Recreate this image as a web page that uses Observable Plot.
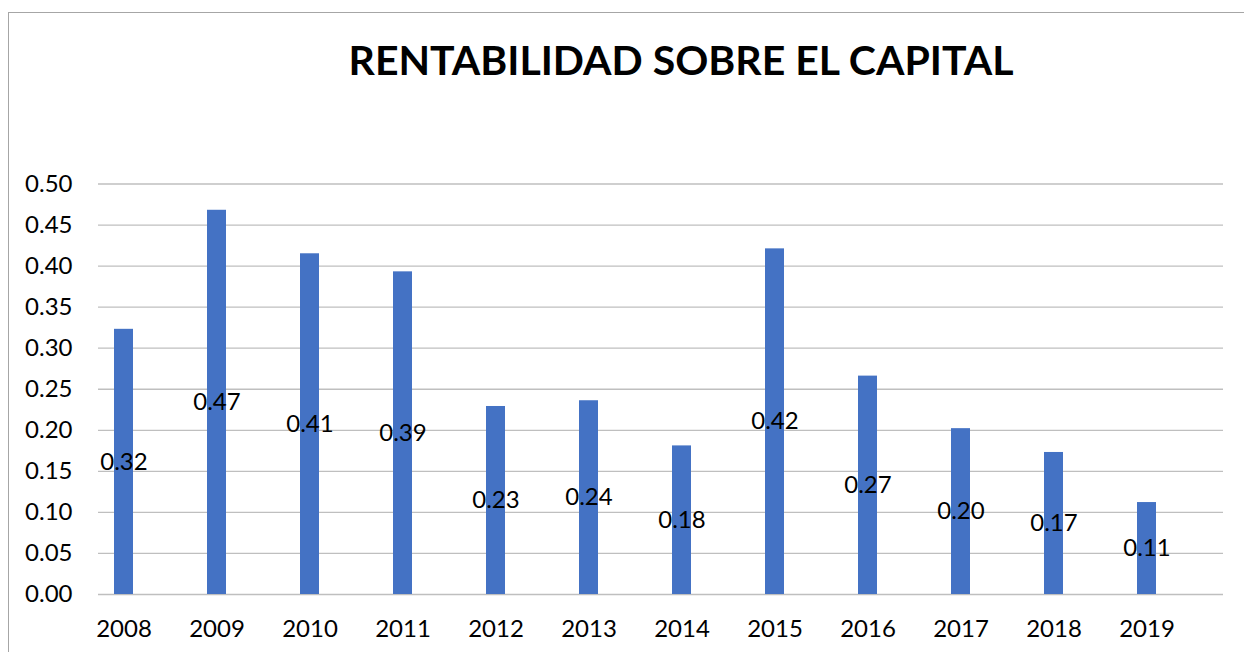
<!DOCTYPE html>
<html>
<head>
<meta charset="utf-8">
<script src="https://cdn.jsdelivr.net/npm/d3@7"></script>
<script src="https://cdn.jsdelivr.net/npm/@observablehq/plot@0.6"></script>
<style>
  html, body { margin: 0; padding: 0; background: #fff; }
  #wrap { position: relative; width: 1244px; height: 652px; overflow: hidden; font-family: Lato, "Open Sans", sans-serif; }
  #border { position: absolute; left: 8px; top: 12px; width: 1300px; height: 700px; border-left: 1.5px solid #a6a6a6; border-top: 1.5px solid #a6a6a6; }
  #title { position: absolute; left: 681px; top: 39px; transform: translateX(-50%); white-space: nowrap; font-weight: bold; font-size: 41px; line-height: 42px; color: #000; }
  #chart { position: absolute; left: 0; top: 130px; }
</style>
</head>
<body>
<div id="wrap">
  <div id="border"></div>
  <div id="title">RENTABILIDAD SOBRE EL CAPITAL</div>
  <div id="chart"></div>
</div>
<script>
const years = ["2008","2009","2010","2011","2012","2013","2014","2015","2016","2017","2018","2019"];
const values = [0.323, 0.468, 0.415, 0.393, 0.229, 0.236, 0.181, 0.421, 0.266, 0.202, 0.173, 0.112];
const yTicks = [0, 0.05, 0.10, 0.15, 0.20, 0.25, 0.30, 0.35, 0.40, 0.45, 0.50];

const data = years.map((year, i) => ({year, value: values[i]}));

const plot = Plot.plot({
  width: 1244,
  height: 522,
  marginLeft: 98,
  marginRight: 21,
  marginTop: 53.5,
  marginBottom: 58,
  style: {fontFamily: "Lato, 'Open Sans', sans-serif", fontSize: "24px", background: "transparent", color: "#000"},
  x: {domain: years, paddingInner: 0.8, paddingOuter: 0.39, align: 0.19, label: null},
  y: {domain: [0, 0.5], label: null},
  marks: [
    Plot.ruleY(yTicks, {stroke: "#bfbfbf", strokeWidth: 1.3}),
    Plot.barY(data, {x: "year", y: "value", fill: "#4472C4"}),
    Plot.text(data, {x: "year", y: d => d.value / 2, text: d => d3.format(".2f")(d.value), fill: "#000", fontSize: 24}),
    Plot.axisY({ticks: yTicks, tickFormat: d3.format(".2f"), tickSize: 0, tickPadding: 26, fontSize: 24, fill: "#000", stroke: "#bfbfbf", line: true, label: null}),
    Plot.axisX({tickSize: 0, tickPadding: 25, fontSize: 24, fill: "#000", label: null})
  ]
});
document.getElementById("chart").appendChild(plot);
</script>
</body>
</html>
